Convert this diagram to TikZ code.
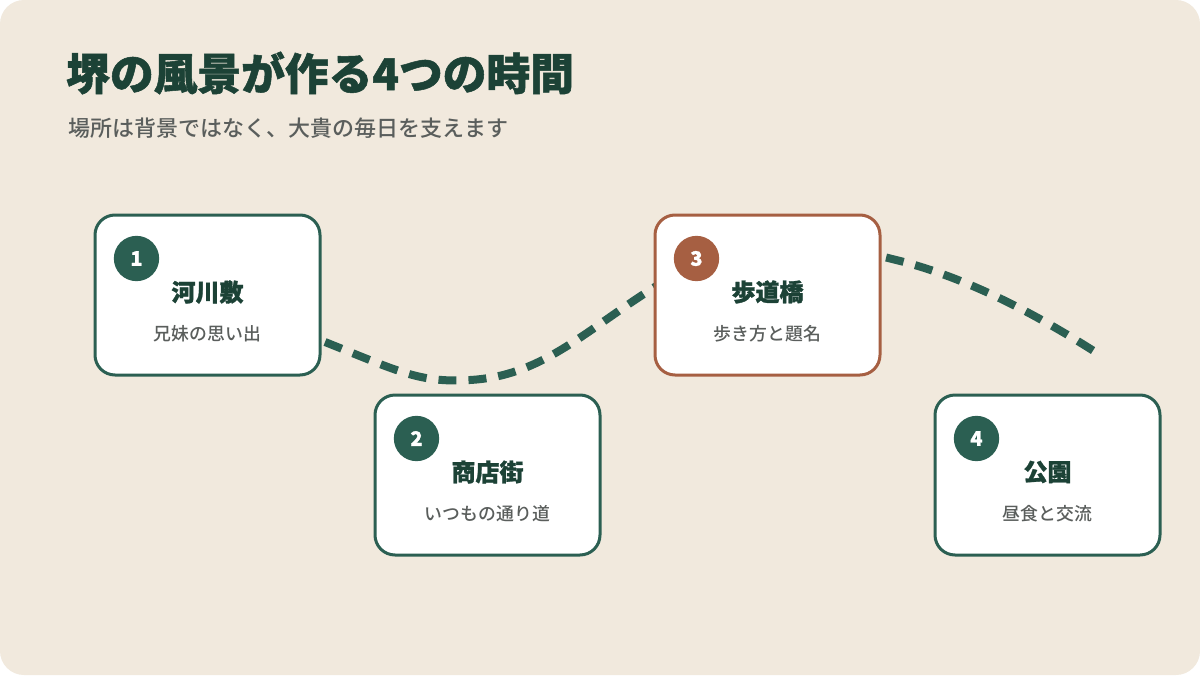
\documentclass[tikz,border=0pt]{standalone}
\usepackage{fontspec}
\newfontfamily\jpblack[FakeBold=1.2]{Noto Sans CJK JP Black}
\newfontfamily\jpmed{Noto Sans CJK JP Medium}
\usetikzlibrary{calc}
\definecolor{sakaigreen}{HTML}{2B5F52}
\definecolor{sakaiink}{HTML}{1C4236}
\definecolor{sakaibrown}{HTML}{A65F42}
\definecolor{sakaisand}{HTML}{F1E9DD}
\definecolor{sakaigray}{HTML}{5A5E5C}

\begin{document}
\begin{tikzpicture}[x=0.75pt,y=-0.75pt,
      card/.style={draw=#1,line width=2.25pt,fill=white,rounded corners=15pt,
                   minimum width=168.75pt,minimum height=120pt,inner sep=0pt},
      badge/.style={circle,fill=#1,minimum size=34pt,inner sep=0pt,text=white,
                    font=\jpblack\fontsize{15}{15}\selectfont},
      place/.style={text=sakaiink,font=\jpblack\fontsize{18}{18}\selectfont},
      note/.style={text=sakaigray,font=\jpmed\fontsize{13.4}{13.4}\selectfont},
      wave/.style={sakaigreen,line width=6pt,dash pattern=on 13.5pt off 9pt}
  ]
    \useasboundingbox (0,0) rectangle (1200,675);
    \fill[white] (0,0) rectangle (1200,675);
    \fill[sakaisand,rounded corners=18pt] (0,0) rectangle (1200,675);

    \node[anchor=west,inner sep=0pt,text=sakaiink,font=\jpblack\fontsize{32.8}{32.8}\selectfont]
      (title) at (66,73) {堺の風景が作る4つの時間};
    \node[anchor=west,inner sep=0pt,text=sakaigray,font=\jpmed\fontsize{16.5}{16.5}\selectfont]
      (sub) at (68,128) {場所は背景ではなく、大貴の毎日を支えます};

    % the path runs under the cards
    \coordinate (w0) at (325,342);
    \coordinate (w1) at (470,380);
    \coordinate (w2) at (650,290);
    \coordinate (w3) at (892,259);
    \coordinate (w4) at (1100,355);
    \draw[wave] (w0) .. controls (400,372) and (420,383) .. (w1)
                     .. controls (540,376) and (580,335) .. (w2)
                     .. controls (720,245) and (820,240) .. (w3)
                     .. controls (960,275) and (1030,310) .. (w4);

    \node[card=sakaigreen] (c1) at (207.5,295) {};
    \node[card=sakaigreen] (c2) at (487.5,475) {};
    \node[card=sakaibrown] (c3) at (767.5,295) {};
    \node[card=sakaigreen] (c4) at (1047.5,475) {};

    \node[badge=sakaigreen] (n1) at ($(c1.north west)+(43,45)$) {1};
    \node[badge=sakaigreen] (n2) at ($(c2.north west)+(43,45)$) {2};
    \node[badge=sakaibrown] (n3) at ($(c3.north west)+(43,45)$) {3};
    \node[badge=sakaigreen] (n4) at ($(c4.north west)+(43,45)$) {4};

    \node[place] (p1) at ($(c1.center)+(0,-3)$) {河川敷};
    \node[place] (p2) at ($(c2.center)+(0,-3)$) {商店街};
    \node[place] (p3) at ($(c3.center)+(0,-3)$) {歩道橋};
    \node[place] (p4) at ($(c4.center)+(0,-3)$) {公園};

    \node[note] (m1) at ($(c1.center)+(0,38.5)$) {兄妹の思い出};
    \node[note] (m2) at ($(c2.center)+(0,38.5)$) {いつもの通り道};
    \node[note] (m3) at ($(c3.center)+(0,38.5)$) {歩き方と題名};
    \node[note] (m4) at ($(c4.center)+(0,38.5)$) {昼食と交流};
  \end{tikzpicture}
\end{document}
